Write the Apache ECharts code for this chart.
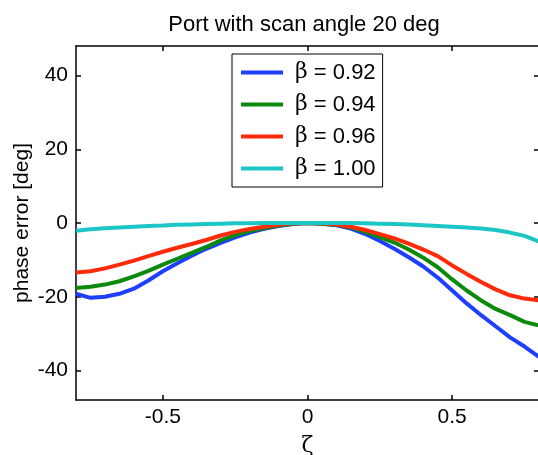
<!DOCTYPE html>
<html>
<head>
<meta charset="utf-8">
<script src="https://cdn.jsdelivr.net/npm/echarts@6/dist/echarts.min.js"></script>
<style>
  html, body { margin: 0; padding: 0; background: #fff; }
  #chart { width: 538px; height: 455px; }
</style>
</head>
<body>
<div id="chart"></div>
<script>
// zeta positions (step 0.05)
const zeta = [-0.8, -0.75, -0.7, -0.65, -0.6, -0.55, -0.5, -0.45, -0.4, -0.35, -0.3, -0.25, -0.2, -0.15, -0.1, -0.05,
    0, 0.05, 0.1, 0.15, 0.2, 0.25, 0.3, 0.35, 0.4, 0.45, 0.5, 0.55, 0.6, 0.65, 0.7, 0.75, 0.8];

const beta092 = [-19.2, -20.3, -20.0, -19.2, -17.8, -15.6, -13.1, -10.9, -8.9, -7.0, -5.4, -3.9, -2.6, -1.6, -0.8, -0.3,
    0, -0.2, -0.6, -1.5, -3.0, -4.9, -7.0, -9.3, -11.8, -14.8, -18.3, -21.8, -25.0, -28.0, -31.0, -33.5, -36.3];
const beta094 = [-17.6, -17.3, -16.7, -15.8, -14.5, -13.0, -11.3, -9.7, -8.1, -6.5, -4.7, -3.3, -2.2, -1.4, -0.7, -0.2,
    0, -0.2, -0.5, -1.2, -2.4, -3.8, -5.3, -7.2, -9.4, -12.0, -15.3, -18.3, -21.0, -23.3, -25.0, -26.8, -27.8];
const beta096 = [-13.4, -13.1, -12.3, -11.3, -10.2, -9.0, -7.8, -6.7, -5.7, -4.6, -3.4, -2.4, -1.6, -1.0, -0.5, -0.1,
    0, -0.1, -0.4, -1.0, -1.9, -3.0, -4.2, -5.6, -7.2, -9.0, -11.5, -13.8, -16.0, -18.0, -19.6, -20.5, -21.0];
const beta100 = [-2.1, -1.7, -1.4, -1.2, -1.0, -0.8, -0.7, -0.5, -0.4, -0.3, -0.2, -0.1, -0.1, 0, 0, 0,
    0, 0, 0, 0, -0.1, -0.2, -0.3, -0.4, -0.6, -0.8, -1.0, -1.2, -1.5, -1.9, -2.6, -3.5, -5.0];

const seriesNames = ['0.92', '0.94', '0.96', '1.00'];
const seriesData = [beta092, beta094, beta096, beta100];
const colors = ['#1f3fff', '#0b8a0b', '#ff2a0a', '#1cc6c6'];

const xTicks = [-0.5, 0, 0.5];
const yTicks = [-40, -20, 0, 20, 40];

const font = 'Liberation Sans, Arial, sans-serif';
const axisLine = { show: true, onZero: false, lineStyle: { color: '#000', width: 1.5 } };

const makeX = (pos, labels) => ({
    type: 'value', position: pos, min: -0.8, max: 0.8,
    axisLine: axisLine,
    axisTick: { show: true, inside: true, length: 5, customValues: xTicks, lineStyle: { color: '#000', width: 1.5 } },
    axisLabel: { show: labels, customValues: xTicks, color: '#000', fontSize: 21, fontFamily: font, margin: 7 },
    splitLine: { show: false }
});
const makeY = (pos, labels) => ({
    type: 'value', position: pos, min: -48, max: 48,
    axisLine: axisLine,
    axisTick: { show: true, inside: true, length: 5, customValues: yTicks, lineStyle: { color: '#000', width: 1.5 } },
    axisLabel: { show: labels, customValues: yTicks, color: '#000', fontSize: 21, fontFamily: font, margin: 8 },
    splitLine: { show: false }
});

const xAxisMain = makeX('bottom', true);
xAxisMain.name = 'ζ';
xAxisMain.nameLocation = 'middle';
xAxisMain.nameGap = 35;
xAxisMain.nameMoveOverlap = false;
xAxisMain.nameTextStyle = { color: '#000', fontSize: 22, fontFamily: 'DejaVu Serif, serif' };

const yAxisMain = makeY('left', true);
yAxisMain.name = 'phase error [deg]';
yAxisMain.nameLocation = 'middle';
yAxisMain.nameGap = 43;
yAxisMain.nameMoveOverlap = false;
yAxisMain.nameTextStyle = { color: '#000', fontSize: 21, fontFamily: font };

const option = {
    animation: false,
    backgroundColor: '#fff',
    title: {
        text: 'Port with scan angle 20 deg',
        left: 299, top: 9, textAlign: 'center',
        textStyle: { color: '#000', fontSize: 22, fontWeight: 'normal', fontFamily: font }
    },
    grid: { left: 76, right: -1, top: 46, bottom: 55, containLabel: false, outerBoundsMode: 'none' },
    legend: {
        orient: 'vertical',
        left: 232, top: 54,
        padding: [6, 7, 6, 9],
        backgroundColor: '#fff',
        borderColor: '#000', borderWidth: 1, borderRadius: 0,
        itemWidth: 42, itemHeight: 4, itemGap: 7,
        icon: 'rect',
        formatter: (name) => '{b|β} = ' + name,
        textStyle: {
            color: '#000', fontSize: 22, fontFamily: font, lineHeight: 25, padding: [0, 0, 0, 7],
            rich: { b: { fontSize: 22, fontFamily: 'DejaVu Serif, serif', color: '#000' } }
        }
    },
    xAxis: [xAxisMain, makeX('top', false)],
    yAxis: [yAxisMain, makeY('right', false)],
    series: seriesNames.map((n, i) => ({
        name: n,
        type: 'line',
        xAxisIndex: 0, yAxisIndex: 0,
        showSymbol: false, symbol: 'none',
        data: zeta.map((z, j) => [z, seriesData[i][j]]),
        lineStyle: { color: colors[i], width: 4 },
        itemStyle: { color: colors[i] }
    }))
};

const chart = echarts.init(document.getElementById('chart'));
chart.setOption(option);
</script>
</body>
</html>
